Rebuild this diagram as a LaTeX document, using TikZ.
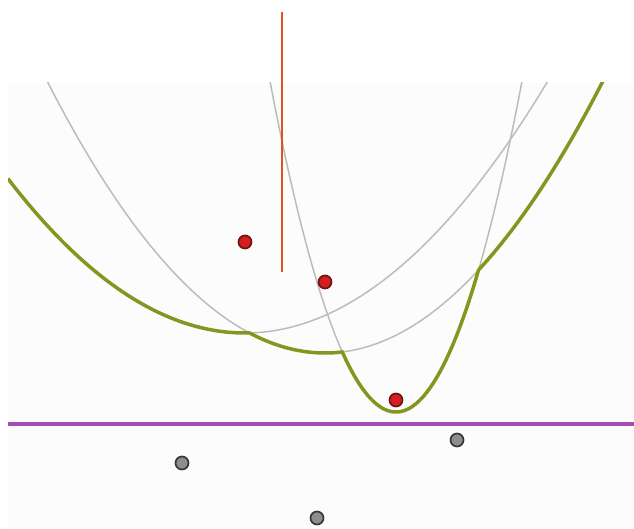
\documentclass[tikz,border=0pt]{standalone}
\usetikzlibrary{calc}
\definecolor{arcgray} {HTML}{BCBCBC}
\definecolor{beach}   {HTML}{84961F}
\definecolor{sweep}   {HTML}{A54CB4}
\definecolor{edgered} {HTML}{E2521E}
\definecolor{sitered} {HTML}{D41F1F}
\definecolor{sitedark}{HTML}{6E1414}
\definecolor{pendgray}{HTML}{8E8E8E}
\definecolor{penddark}{HTML}{383838}
\definecolor{planebg} {HTML}{FCFCFC}
\tikzset{
  arcline/.style={draw=arcgray, line width=0.3mm},
  beachline/.style={draw=beach, line width=0.7mm, line join=round},
  sweepline/.style={draw=sweep, line width=0.7mm},
  edgeline/.style={draw=edgered, line width=0.4mm},
  site/.style={
    circle, fill=sitered, draw=sitedark, line width=0.35mm,
    minimum size=2.6mm, inner sep=0pt
  },
  pending/.style={site, fill=pendgray, draw=penddark}
}

\begin{document}
\begin{tikzpicture}[x=0.2mm, y=-0.2mm]
    \useasboundingbox (0,0) rectangle (634,529);
    \fill[planebg] (8,83) rectangle (634,529);

    % arcs of the three sites, sweep line at 424
    \begin{scope}
      \clip (8,83) rectangle (634,529);
      \draw[arcline] plot[domain=-60:560, samples=120] (\x, {333-0.2747*((\x-245)/10)^2});
      \draw[arcline] plot[domain=40:610, samples=120] (\x, {353-0.3521*((\x-325)/10)^2});
      \draw[arcline] plot[domain=265:530, samples=120] (\x, {412-2.0833*((\x-396)/10)^2});
      % beach line
      \draw[beachline]
        plot[domain=8:249.5, samples=60] (\x, {333-0.2747*((\x-245)/10)^2})
        -- plot[domain=249.5:342.6, samples=40] (\x, {353-0.3521*((\x-325)/10)^2})
        -- plot[domain=342.6:478.6, samples=80] (\x, {412-2.0833*((\x-396)/10)^2})
        -- plot[domain=478.6:610, samples=60] (\x, {353-0.3521*((\x-325)/10)^2});
    \end{scope}

    \draw[sweepline] (8,424) -- (634,424);

    \coordinate (e1) at (282,12);
    \coordinate (e2) at (282,272);
    \draw[edgeline] (e1) -- (e2);

    \node[site] (s1) at (245,242) {};
    \node[site] (s2) at (325,282) {};
    \node[site] (s3) at (396,400) {};

    \node[pending] (q1) at (182,463) {};
    \node[pending] (q2) at (457,440) {};
    \node[pending] (q3) at (317,518) {};
  \end{tikzpicture}
\end{document}
